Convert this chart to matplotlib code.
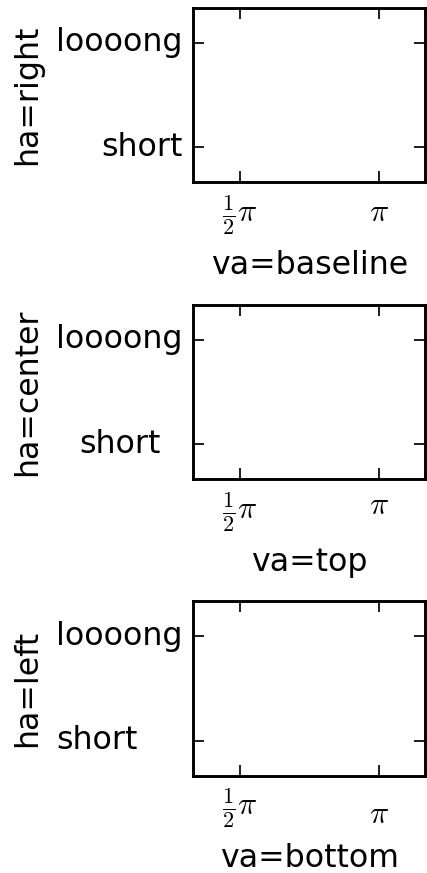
import numpy as np
import matplotlib
matplotlib.use('Agg')
import matplotlib.pyplot as plt

plt.style.use('classic')
plt.rcParams['axes.linewidth'] = 1.1
plt.rcParams['xtick.major.width'] = 0.65
plt.rcParams['ytick.major.width'] = 0.65

# data
x_ticks = [np.pi / 2, np.pi]
x_tick_labels = [r'$\frac{1}{2}\pi$', r'$\pi$']
y_ticks = [0.2, 0.8]
y_tick_labels = ['short', 'loooong']
h_aligns = ['right', 'center', 'left']
v_aligns = ['baseline', 'top', 'bottom']

DPI = 190
fig = plt.figure(figsize=(427.2 / DPI, 873.2 / DPI), dpi=DPI, facecolor='white')

bottoms = [0.7912, 0.4513, 0.1115]
axes = []
for b, ha, va in zip(bottoms, h_aligns, v_aligns):
    ax = fig.add_axes([0.4527, b, 0.5426, 0.1995])
    ax.set_xlim(np.pi / 3, 7 * np.pi / 6)
    ax.set_ylim(0, 1)
    ax.set_xticks(x_ticks, x_tick_labels, va=va)
    ax.set_yticks(y_ticks, y_tick_labels, ha=ha)
    ax.set_xlabel('va=' + va)
    ax.set_ylabel('ha=' + ha)
    axes.append(ax)

# shift the label blocks so the widest / tallest label sits at the normal pad
fig.canvas.draw()
r = fig.canvas.get_renderer()
pad_px = 4 * DPI / 72
for ax in axes:
    bb = ax.get_window_extent(r)
    top = max(t.get_window_extent(r).y1 for t in ax.get_xticklabels())
    dy = top - (bb.y0 - pad_px)
    ax.tick_params(axis='x', pad=4 + dy * 72 / DPI)
    right = max(t.get_window_extent(r).x1 for t in ax.get_yticklabels())
    dx = right - (bb.x0 - pad_px)
    ax.tick_params(axis='y', pad=4 + dx * 72 / DPI)

fig.savefig('out.png', dpi=DPI, facecolor='white')
